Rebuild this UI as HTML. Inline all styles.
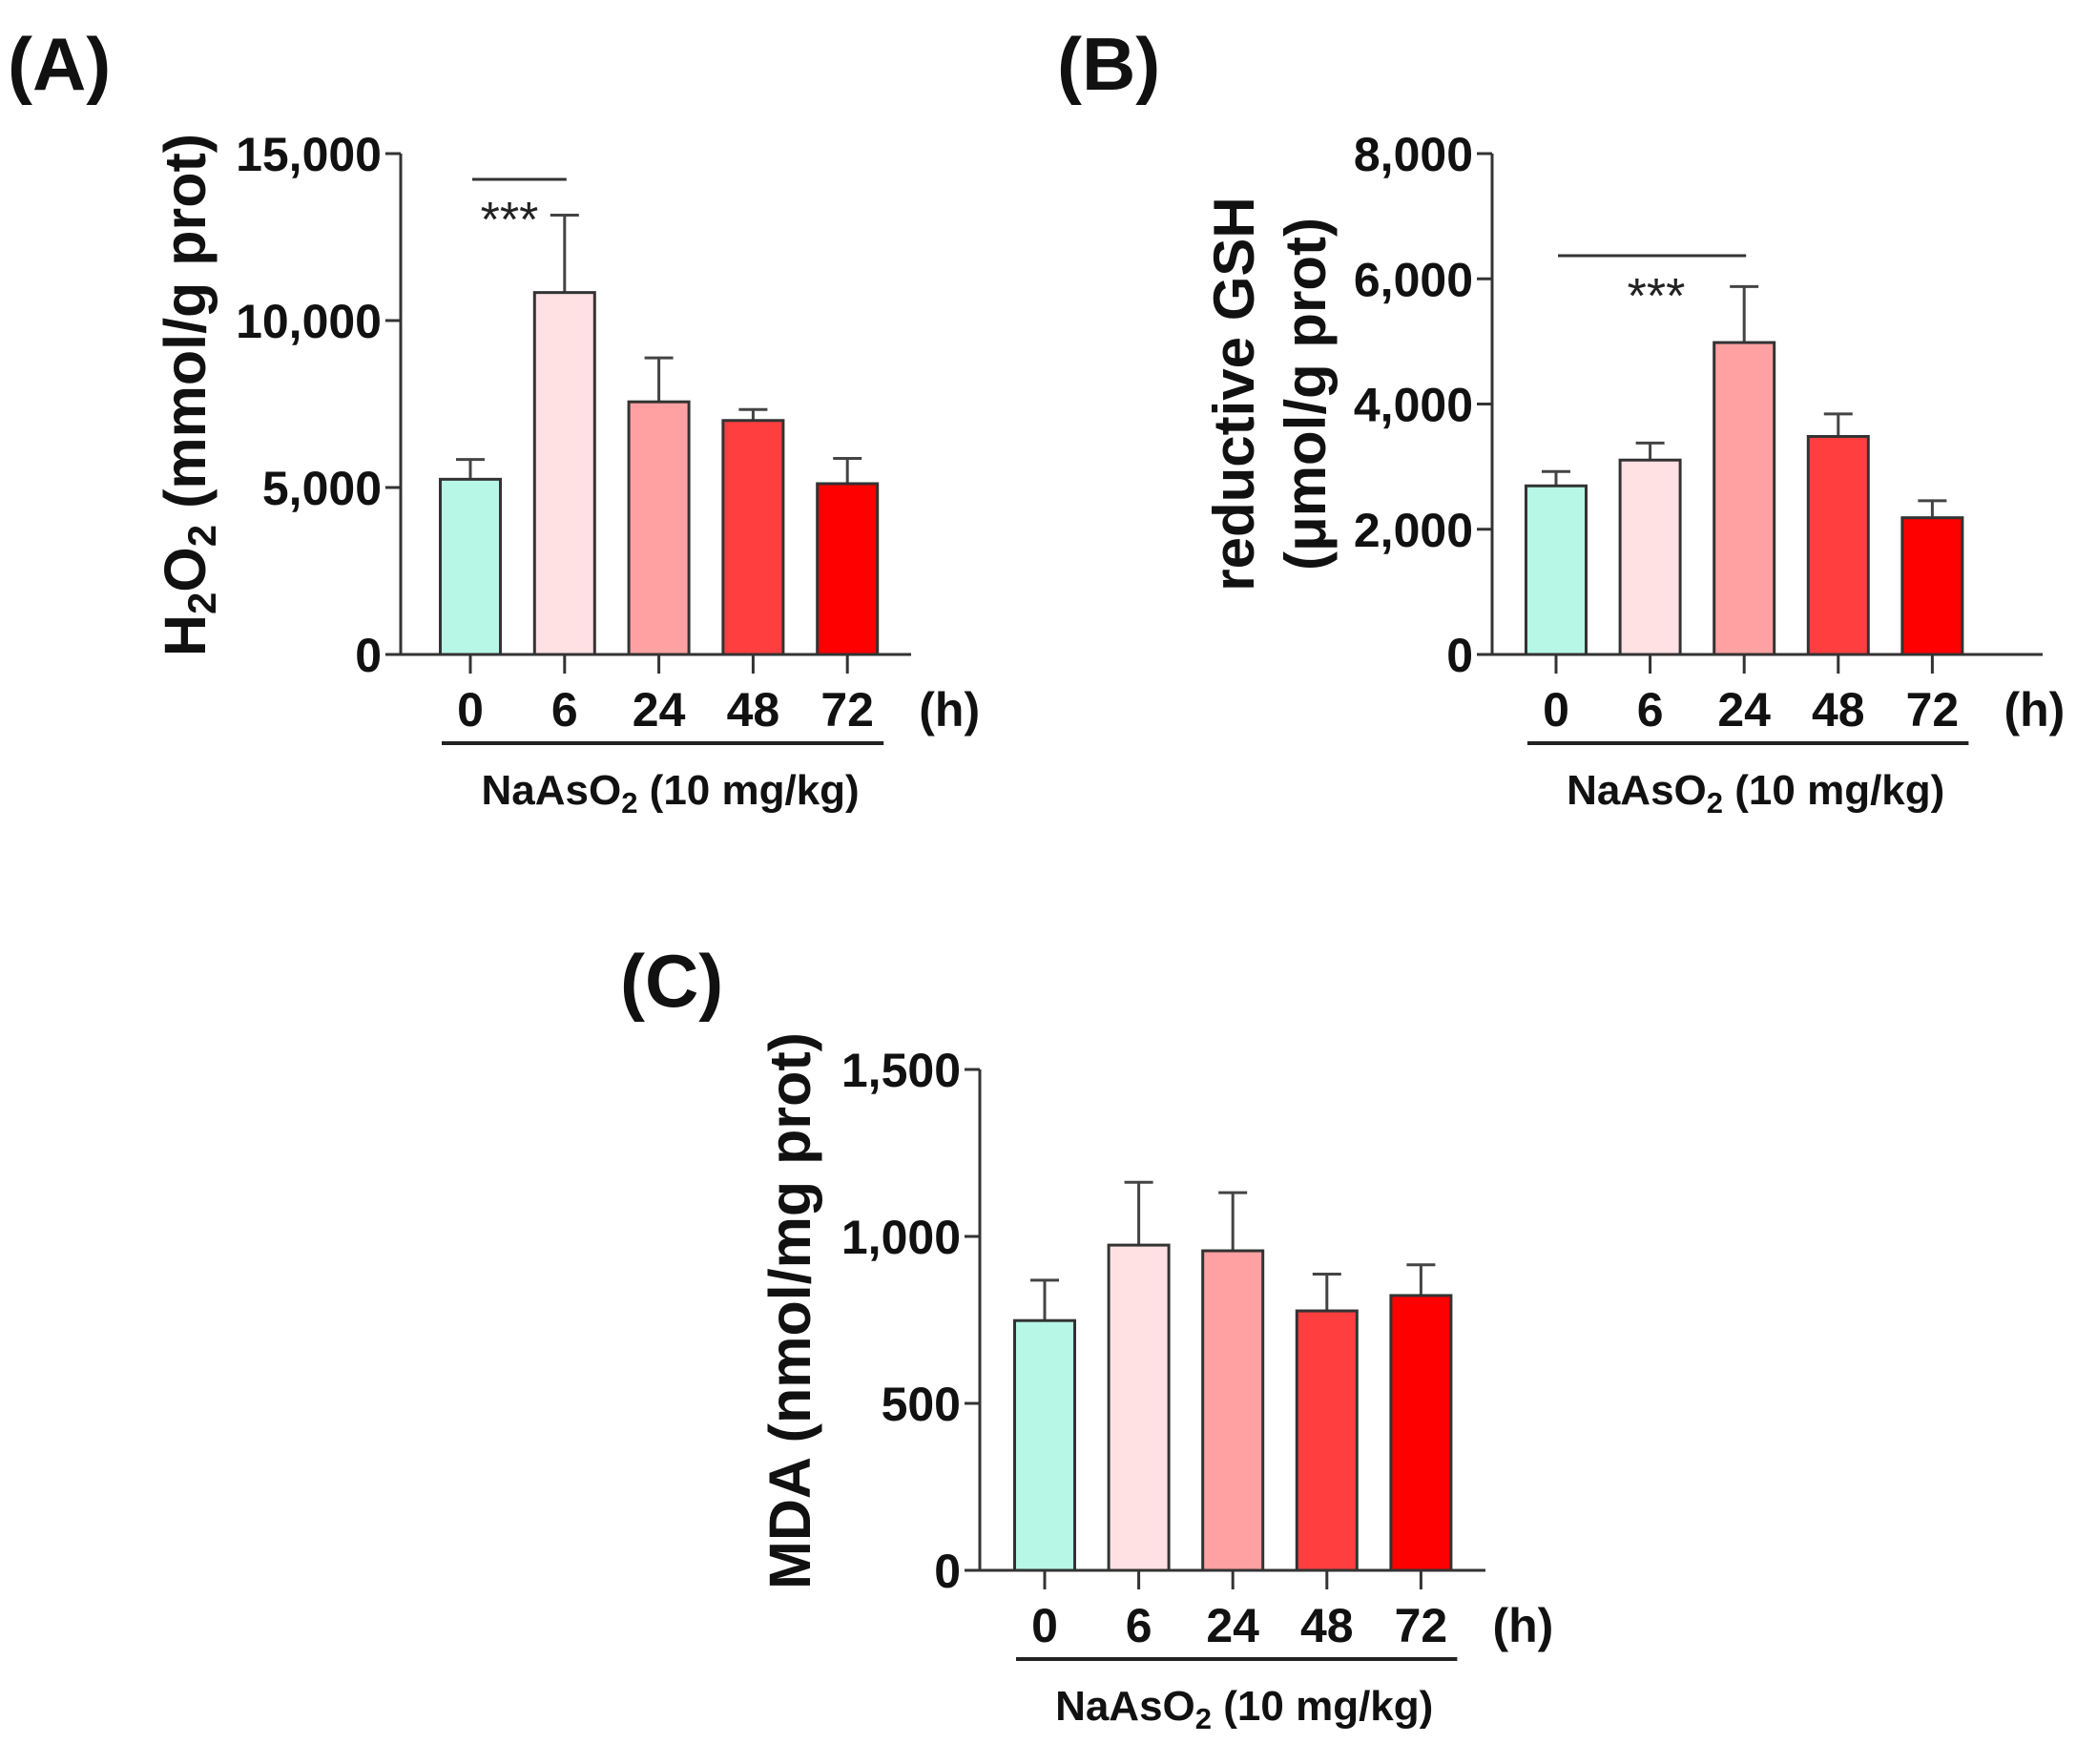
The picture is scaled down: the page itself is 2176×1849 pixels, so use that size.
<!DOCTYPE html>
<html><head><meta charset="utf-8"><style>
html,body{margin:0;padding:0;background:#fff;overflow:hidden;}
svg{display:block;font-family:"Liberation Sans",Arial,sans-serif;}
</style></head><body>
<svg id="fig" width="2176" height="1849" viewBox="0 0 2176 1849" xmlns="http://www.w3.org/2000/svg">
<rect width="2176" height="1849" fill="#fff"/>
<g font-weight="bold" fill="#111">
<text x="8" y="94" font-size="78">(A)</text>
<text x="1108" y="94" font-size="78">(B)</text>
<text x="650" y="1055" font-size="78">(C)</text>
<text transform="translate(215,414) rotate(-90)" text-anchor="middle" font-size="61">H<tspan font-size="42" dy="11">2</tspan><tspan dy="-11">O</tspan><tspan font-size="42" dy="11">2</tspan><tspan dy="-11"> (mmol/g prot)</tspan></text>
<text transform="translate(1314,413) rotate(-90)" text-anchor="middle" font-size="60">reductive GSH</text>
<text transform="translate(1389,413) rotate(-90)" text-anchor="middle" font-size="60">(μmol/g prot)</text>
<text transform="translate(849,1374) rotate(-90)" text-anchor="middle" font-size="61">MDA (nmol/mg prot)</text>
</g>
<g id="pa"></g><g id="pb"></g><g id="pc"></g>
</svg>
<script>
const categories = ["0","6","24","48","72"];
const colors = ["#b6f7e6","#ffe0e3","#ffa0a2","#ff3f3f","#ff0000"];
const aMeans = [5247,10839,7566,7007,5115];
const aErrs = [592,2319,1316,329,757];
const aTicks = [0,5000,10000,15000];
const bMeans = [2693,3105,4982,3482,2184];
const bErrs = [228,272,895,360,272];
const bTicks = [0,2000,4000,6000,8000];
const cMeans = [748,974,957,777,823];
const cErrs = [121,188,174,110,92];
const cTicks = [0,500,1000,1500];
const NS="http://www.w3.org/2000/svg";
function mk(parent,tag,attrs){const e=document.createElementNS(NS,tag);for(const k in attrs)e.setAttribute(k,attrs[k]);parent.appendChild(e);return e;}
function fmt(v){return v.toLocaleString('en-US');}
function panel(gid,ax,top,zero,right,first,step,means,errs,ticks,sig){
  const g=document.getElementById(gid);
  const max=ticks[ticks.length-1];
  const y=v=>zero-(v/max)*(zero-top);
  const x=i=>first+i*step;
  const bw=63;
  means.forEach((m,i)=>{
    const el=mk(g,'line',{x1:x(i),x2:x(i),y1:y(m),y2:y(m+errs[i]),stroke:'#444','stroke-width':3});
    
    
    const cap=mk(g,'line',{x1:x(i)-15,x2:x(i)+15,y1:y(m+errs[i]),y2:y(m+errs[i]),stroke:'#444','stroke-width':3});
    
    
    const r=mk(g,'rect',{x:x(i)-bw/2,y:y(m),width:bw,height:zero-y(m),fill:colors[i],stroke:'#333','stroke-width':3});
    
    
  });
  const ya=mk(g,'line',{x1:ax,x2:ax,y1:top,y2:zero,stroke:'#333','stroke-width':3});
  
  
  const xa=mk(g,'line',{x1:ax-16,x2:right,y1:zero,y2:zero,stroke:'#333','stroke-width':3});
  
  
  ticks.forEach(t=>{
    const tl=mk(g,'line',{x1:ax-16,x2:ax,y1:y(t),y2:y(t),stroke:'#333','stroke-width':3});
    
    
    const tx=mk(g,'text',{x:ax-20,y:y(t)+18,'text-anchor':'end','font-size':50,'font-weight':'bold',fill:'#111'});
    tx.textContent=fmt(t);
    
    
  });
  categories.forEach((c,i)=>{
    const tl=mk(g,'line',{x1:x(i),x2:x(i),y1:zero,y2:zero+20,stroke:'#333','stroke-width':3});
    
    
    const tx=mk(g,'text',{x:x(i),y:zero+75,'text-anchor':'middle','font-size':50,'font-weight':'bold',fill:'#111'});
    tx.textContent=c;
    
    
  });
  const h=mk(g,'text',{x:x(4)+107,y:zero+75,'text-anchor':'middle','font-size':50,'font-weight':'bold',fill:'#111'});
  h.textContent='(h)';
  
  
  const br=mk(g,'line',{x1:x(0)-30,x2:x(4)+38,y1:zero+93,y2:zero+93,stroke:'#222','stroke-width':4});
  
  
  const tt=mk(g,'text',{x:(x(0)+x(4))/2+12,y:zero+157,'text-anchor':'middle','font-size':44,'font-weight':'bold',fill:'#111'});
  tt.innerHTML='NaAsO<tspan font-size="31" dy="9">2</tspan><tspan dy="-9"> (10 mg/kg)</tspan>';
  
  
  if(sig){
    const sl=mk(g,'line',{x1:x(sig[0])+2,x2:x(sig[1])+2,y1:sig[2],y2:sig[2],stroke:'#333','stroke-width':3});
    
    
    const st=mk(g,'text',{x:sig[3],y:sig[2]+sig[4],'text-anchor':'middle','font-size':52,fill:'#222'});
    st.textContent='***';
    
    
  }
}
panel('pa',420,161,686,955,493,98.8,aMeans,aErrs,aTicks,[0,1,188,534,60]);
panel('pb',1564,161,686,2141,1631,98.6,bMeans,bErrs,bTicks,[0,2,268,1736,60]);
panel('pc',1027,1121,1646,1557,1095,98.6,cMeans,cErrs,cTicks,null);
</script>
</body></html>
